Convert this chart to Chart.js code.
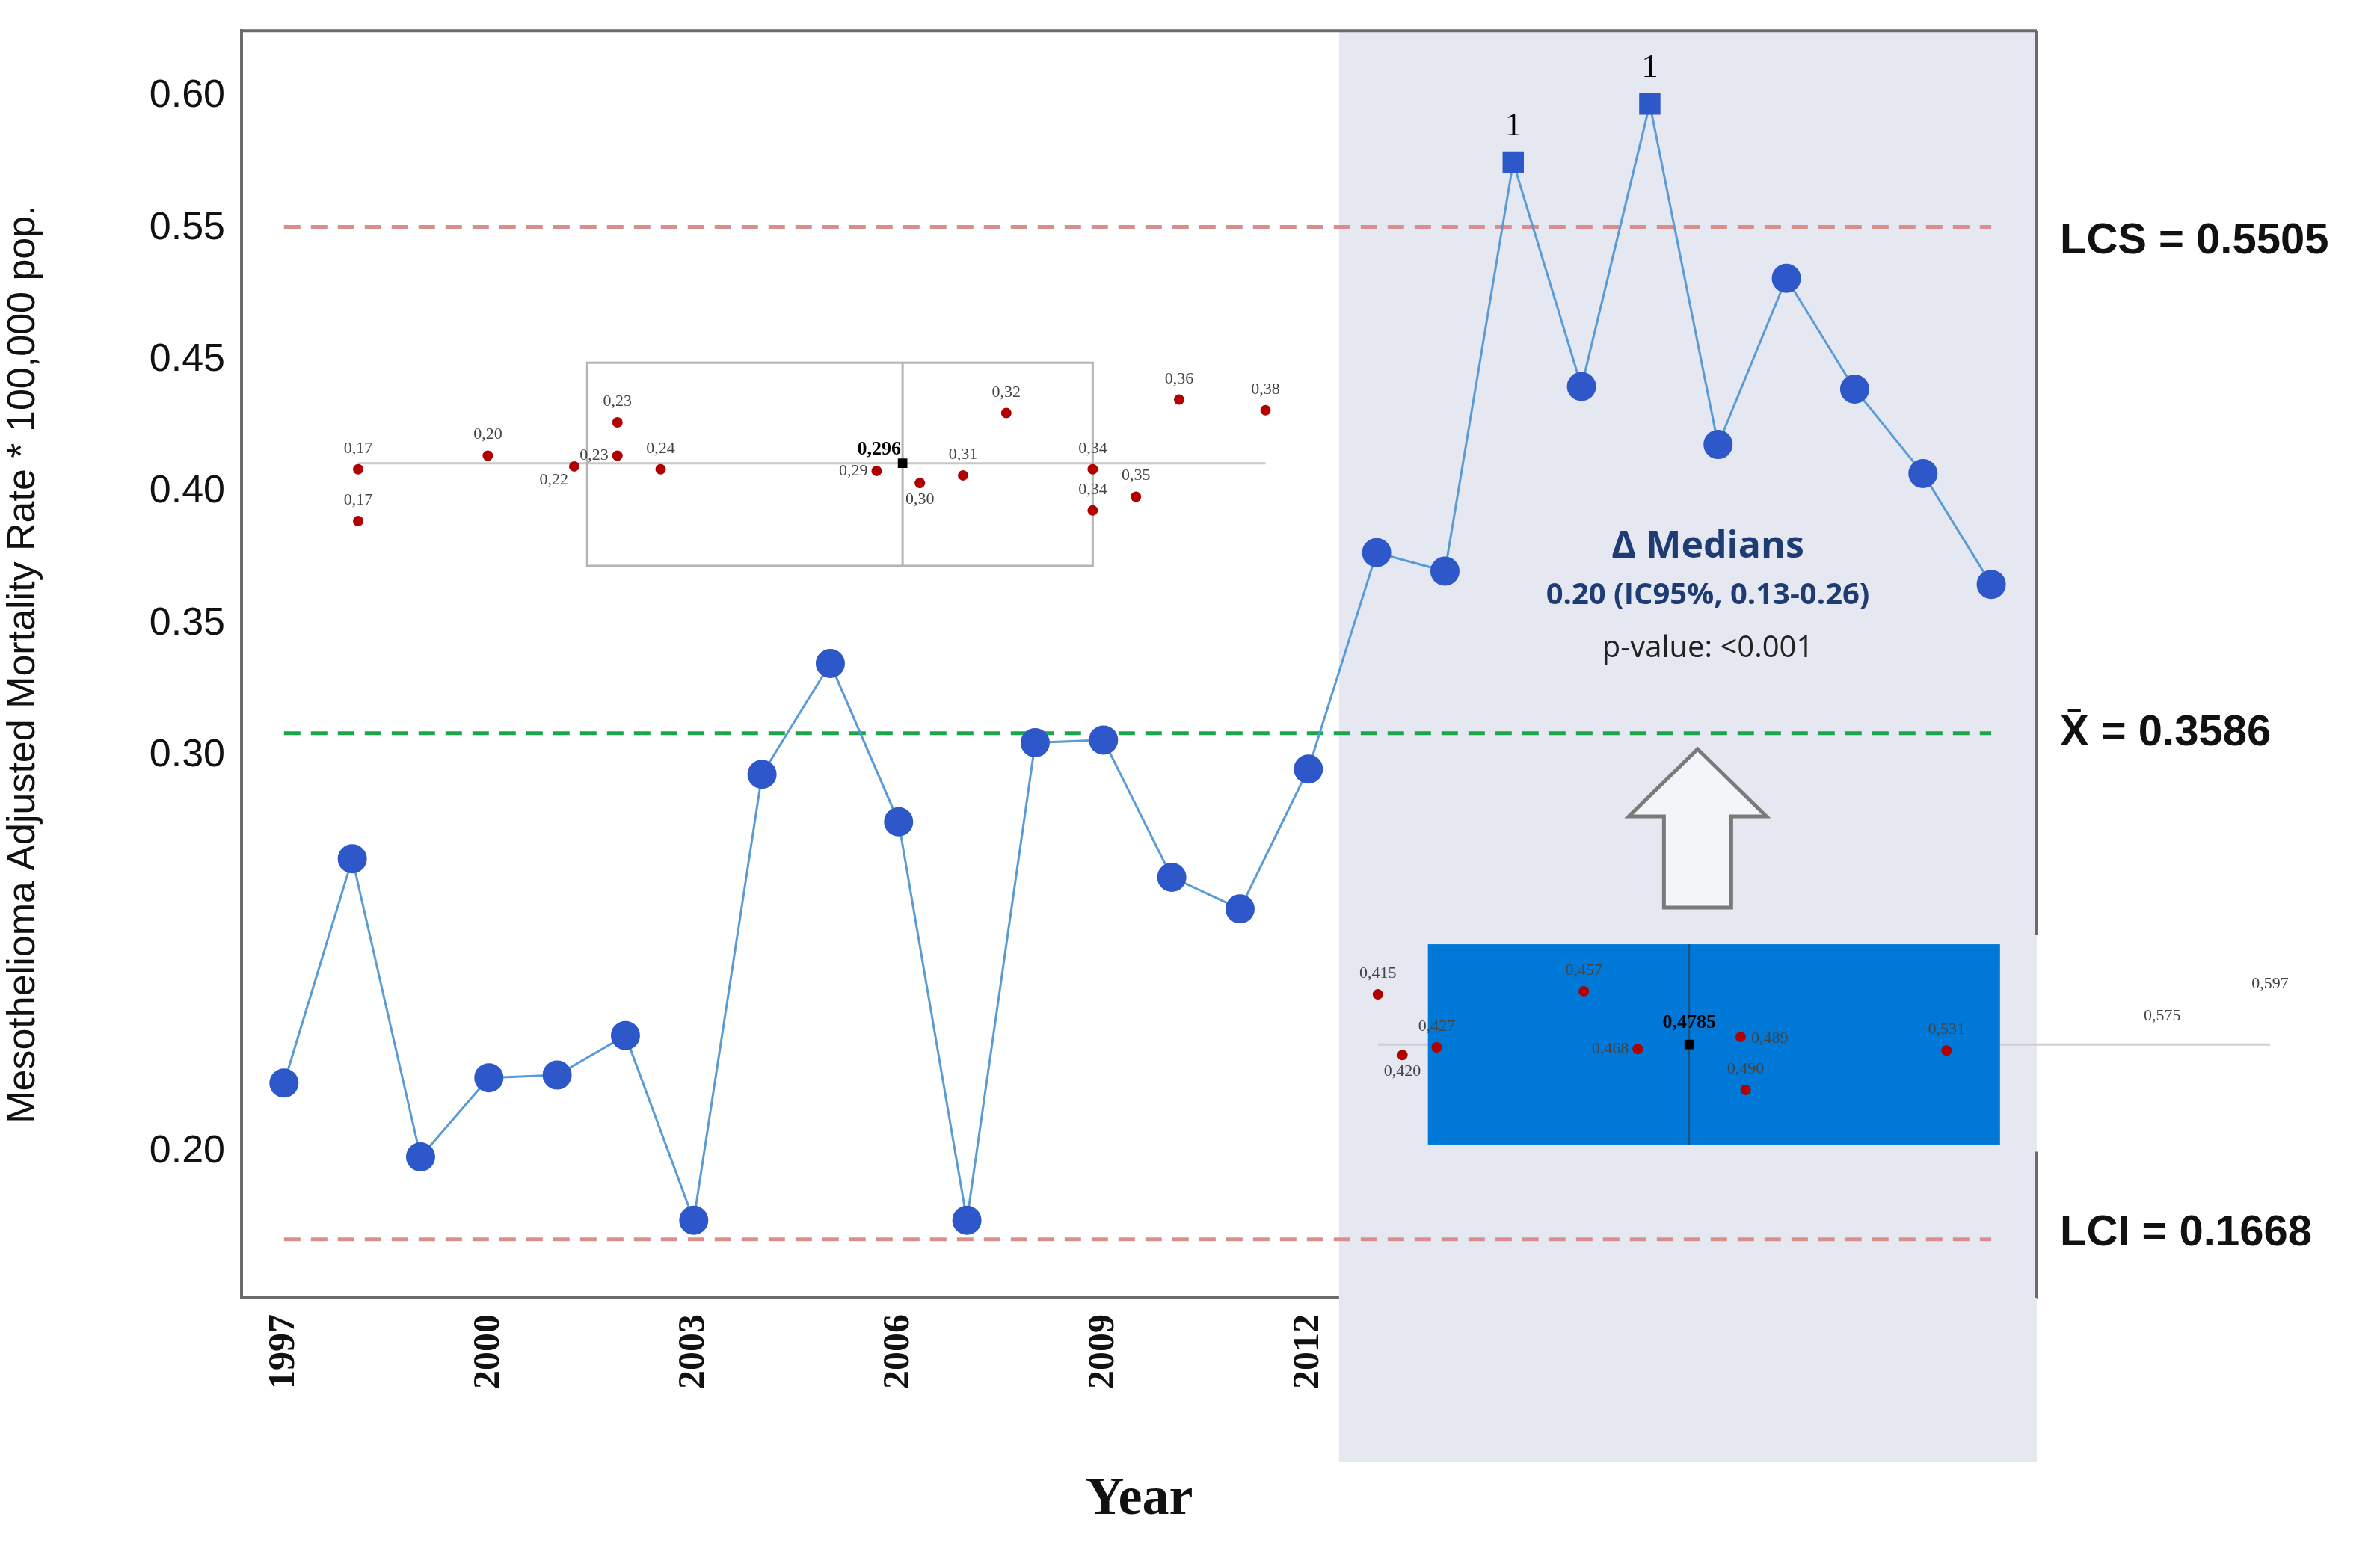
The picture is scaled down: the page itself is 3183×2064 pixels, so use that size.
<!DOCTYPE html>
<html>
<head>
<meta charset="utf-8">
<script src="https://cdn.jsdelivr.net/npm/chart.js@4"></script>
<style>
  html, body { margin: 0; padding: 0; background: #fff; }
  #wrap { width: 3183px; height: 2064px; }
</style>
</head>
<body>
<div id="wrap"><canvas id="grafico"></canvas></div>
<script>
// main series
const years = [1997,1998,1999,2000,2001,2002,2003,2004,2005,2006,2007,2008,2009,2010,2011,2012,2013,2014,2015,2016,2017,2018,2019,2020,2021,2022];
const rates = [0.226,0.311,0.198,0.228,0.229,0.244,0.174,0.343,0.385,0.325,0.174,0.355,0.356,0.304,0.292,0.345,0.427,0.420,0.575,0.490,0.597,0.468,0.531,0.489,0.457,0.415];
const outOfControl = [2015, 2017];
const xTicks = [1997,2000,2003,2006,2009,2012,2013,2015,2018,2021];
// y tick positions and the labels printed on them
const yTickValues = [0.60,0.55,0.50,0.45,0.40,0.35,0.30,0.20];
const yTickLabels = ['0.60','0.55','0.45','0.40','0.35','0.30','','0.20'];

// control limits
const LCS = 0.5505, MEAN = 0.3586, LCI = 0.1668;

// inset 1 (1997-2012)
const insetAValues = [0.17,0.17,0.20,0.23,0.23,0.22,0.24,0.29,0.30,0.31,0.32,0.34,0.34,0.35,0.36,0.38];
const insetARows   = [0.4586,0.439,0.4638,0.4764,0.4638,0.4597,0.4586,0.458,0.4534,0.4563,0.4799,0.4586,0.443,0.4482,0.485,0.481];
const insetAPos    = ['t','t','t','t','l','bl','t','l','b','t','t','t','t','t','t','t'];
const insetAMedian = 0.296, insetAQ = [0.223, 0.34];

// inset 2 (2013-2022)
const insetBValues = [0.415,0.420,0.427,0.457,0.468,0.489,0.490,0.531,0.575,0.597];
const insetBRows   = [0.2596,0.2366,0.2395,0.2608,0.2389,0.2435,0.2234,0.2383,0.2435,0.2556];
const insetBPos    = ['t','b','t','t','l','r','t','t','t','t'];
const insetBMedian = 0.4785, insetBQ = [0.4252, 0.5419];

const mainPts = years.map((y, i) => ({x: y, y: rates[i]}));
const styles = years.map(y => outOfControl.includes(y) ? 'rect' : 'circle');

function limitLine(v, color) {
    return {
        type: 'line', data: [{x: 1997, y: v}, {x: 2022, y: v}],
        borderColor: color, borderWidth: 5, borderDash: [22, 14], pointRadius: 0, xAxisID: 'x'
    };
}

const extras = {
    id: 'extras',
    beforeDatasetsDraw(chart) {
        const c = chart.ctx, a = chart.chartArea;
        const x = chart.scales.x, y = chart.scales.y, xa = chart.scales.xa, xb = chart.scales.xb;
        c.save();
        // shaded post period
        const sx = x.getPixelForValue(2012.45);
        c.fillStyle = '#E5E8F0';
        c.fillRect(sx, a.top, a.right - sx, 1956 - a.top);
        // frame
        c.strokeStyle = '#6b6b6b'; c.lineWidth = 4;
        c.beginPath();
        c.moveTo(a.left, a.top); c.lineTo(a.right, a.top);
        c.moveTo(a.right, a.top); c.lineTo(a.right, y.getPixelForValue(0.282));
        c.moveTo(a.right, y.getPixelForValue(0.20)); c.lineTo(a.right, a.bottom);
        c.stroke();
        // inset 1 box
        c.strokeStyle = '#c8c8c8'; c.lineWidth = 3;
        c.beginPath();
        c.moveTo(xa.getPixelForValue(0.17), y.getPixelForValue(0.4609));
        c.lineTo(xa.getPixelForValue(0.38), y.getPixelForValue(0.4609));
        c.stroke();
        c.strokeStyle = '#b4b4b4';
        c.strokeRect(xa.getPixelForValue(insetAQ[0]), y.getPixelForValue(0.499),
            xa.getPixelForValue(insetAQ[1]) - xa.getPixelForValue(insetAQ[0]),
            y.getPixelForValue(0.422) - y.getPixelForValue(0.499));
        c.beginPath();
        c.moveTo(xa.getPixelForValue(insetAMedian), y.getPixelForValue(0.499));
        c.lineTo(xa.getPixelForValue(insetAMedian), y.getPixelForValue(0.422));
        c.stroke();
        // inset 2 box
        c.strokeStyle = '#cfcfcf';
        c.beginPath();
        c.moveTo(xb.getPixelForValue(0.415), y.getPixelForValue(0.2406));
        c.lineTo(xb.getPixelForValue(0.597), y.getPixelForValue(0.2406));
        c.stroke();
        c.fillStyle = '#0078D7';
        const bx = xb.getPixelForValue(insetBQ[0]), by = y.getPixelForValue(0.2786);
        c.fillRect(bx, by, xb.getPixelForValue(insetBQ[1]) - bx, y.getPixelForValue(0.2027) - by);
        c.strokeStyle = '#1d4f7a'; c.lineWidth = 2;
        c.beginPath();
        c.moveTo(xb.getPixelForValue(insetBMedian), by);
        c.lineTo(xb.getPixelForValue(insetBMedian), y.getPixelForValue(0.2027));
        c.stroke();
        // arrow
        const cx = x.getPixelForValue(2017.7);
        c.strokeStyle = '#7a7a7a'; c.lineWidth = 5; c.fillStyle = '#f4f5f8';
        c.beginPath();
        c.moveTo(cx, 1002); c.lineTo(cx + 92, 1092); c.lineTo(cx + 45, 1092); c.lineTo(cx + 45, 1214);
        c.lineTo(cx - 45, 1214); c.lineTo(cx - 45, 1092); c.lineTo(cx - 92, 1092); c.closePath();
        c.fill(); c.stroke();
        c.restore();
    },
    afterDatasetsDraw(chart) {
        const c = chart.ctx, a = chart.chartArea;
        c.save();
        // inset labels
        const drawLabels = (idx, pos, vals, dec) => {
            const meta = chart.getDatasetMeta(idx);
            c.font = '22px "Liberation Serif"'; c.fillStyle = '#444';
            meta.data.forEach((p, i) => {
                const t = vals[i].toFixed(dec).replace('.', ',');
                let tx = p.x, ty = p.y - 22, al = 'center';
                if (pos[i] === 'b') ty = p.y + 28;
                if (pos[i] === 'l') { tx = p.x - 12; ty = p.y + 6; al = 'right'; }
                if (pos[i] === 'bl') { tx = p.x - 8; ty = p.y + 24; al = 'right'; }
                if (pos[i] === 'r') { tx = p.x + 14; ty = p.y + 8; al = 'left'; }
                c.textAlign = al; c.fillText(t, tx, ty);
            });
        };
        drawLabels(3, insetAPos, insetAValues, 2);
        drawLabels(5, insetBPos, insetBValues, 3);
        c.font = 'bold 26px "Liberation Serif"'; c.fillStyle = '#000'; c.textAlign = 'right';
        const mA = chart.getDatasetMeta(4).data[0], mB = chart.getDatasetMeta(6).data[0];
        c.fillText('0,296', mA.x - 2, mA.y - 12);
        c.textAlign = 'center';
        c.fillText('0,4785', mB.x, mB.y - 22);
        // "1" markers over out-of-control points
        const meta = chart.getDatasetMeta(0);
        c.font = '44px "Liberation Serif"';
        years.forEach((yr, i) => {
            if (outOfControl.includes(yr)) c.fillText('1', meta.data[i].x, meta.data[i].y - 36);
        });
        // limit labels
        const y = chart.scales.y;
        c.font = 'bold 58px "Liberation Sans"'; c.fillStyle = '#111'; c.textAlign = 'left';
        c.textBaseline = 'middle';
        c.fillText('LCS = 0.5505', 2755, y.getPixelForValue(0.545));
        c.fillText('X\u0304 = 0.3586', 2755, y.getPixelForValue(0.3586));
        c.fillText('LCI = 0.1668', 2755, y.getPixelForValue(0.1668) - 8);
        // medians annotation
        const cx = chart.scales.x.getPixelForValue(2017.85);
        c.textAlign = 'center'; c.fillStyle = '#1F3B73';
        c.font = 'bold 50px "Open Sans"';
        c.fillText('\u0394 Medians', cx, 732);
        c.font = 'bold 40px "Open Sans"';
        c.fillText('0.20 (IC95%, 0.13-0.26)', cx, 797);
        c.fillStyle = '#222'; c.font = '40px "Open Sans"';
        c.fillText('p-value: <0.001', cx, 868);
        c.restore();
    }
};

Chart.defaults.font.family = '"Liberation Sans", Arial, sans-serif';

new Chart(document.getElementById('grafico'), {
    type: 'line',
    data: {
        datasets: [
            {
                data: mainPts, xAxisID: 'x', borderColor: '#5B9BD5', borderWidth: 3,
                pointBackgroundColor: '#2E58C9', pointBorderColor: '#2E58C9',
                pointStyle: styles, pointRadius: 18, tension: 0
            },
            limitLine(LCS, '#D98E8E'),
            limitLine(MEAN, '#1AA64A'),
            {
                type: 'scatter', xAxisID: 'xa', clip: false,
                data: insetAValues.map((v, i) => ({x: v, y: insetARows[i]})),
                backgroundColor: '#B00000', pointRadius: 7, pointBorderWidth: 0
            },
            {
                type: 'scatter', xAxisID: 'xa', clip: false,
                data: [{x: insetAMedian, y: 0.4609}],
                backgroundColor: '#000', pointStyle: 'rect', pointRadius: 9, pointBorderWidth: 0
            },
            {
                type: 'scatter', xAxisID: 'xb', clip: false,
                data: insetBValues.map((v, i) => ({x: v, y: insetBRows[i]})),
                backgroundColor: '#B00000', pointRadius: 7, pointBorderWidth: 0
            },
            {
                type: 'scatter', xAxisID: 'xb', clip: false,
                data: [{x: insetBMedian, y: 0.2406}],
                backgroundColor: '#000', pointStyle: 'rect', pointRadius: 9, pointBorderWidth: 0
            },
            limitLine(LCI, '#D98E8E')
        ]
    },
    options: {
        responsive: true, maintainAspectRatio: false, devicePixelRatio: 1, animation: false,
        layout: { padding: { left: 0, right: 459, top: 41, bottom: 0 } },
        plugins: { legend: { display: false }, tooltip: { enabled: false } },
        scales: {
            x: {
                type: 'linear', min: 1996.378, max: 2022.667,
                afterBuildTicks: s => { s.ticks = xTicks.map(v => ({value: v})); },
                afterFit: s => { s.height = 328; },
                grid: { display: false, drawTicks: true, tickLength: 14, tickColor: '#6b6b6b' },
                border: { color: '#6b6b6b', width: 4 },
                ticks: {
                    minRotation: 90, maxRotation: 90, color: '#111', padding: 8,
                    font: { family: '"Liberation Serif"', size: 50, weight: 'bold' },
                    callback: v => String(v)
                },
                title: {
                    display: true, text: 'Year', color: '#111',
                    font: { family: '"Liberation Serif"', size: 72, weight: 'bold' },
                    padding: { top: 0, bottom: 14 }
                }
            },
            xa: { type: 'linear', display: false, min: 0.143, max: 0.5585 },
            xb: { type: 'linear', display: false, min: 0.1832, max: 0.5494 },
            y: {
                min: 0.1446, max: 0.6248,
                afterBuildTicks: s => { s.ticks = yTickValues.map(v => ({value: v})); },
                afterFit: s => { s.width = 323; },
                grid: { display: false, drawTicks: true, tickLength: 12, tickColor: '#6b6b6b' },
                border: { color: '#6b6b6b', width: 4 },
                ticks: {
                    color: '#111', padding: 10, font: { size: 52 },
                    callback: v => yTickLabels[yTickValues.findIndex(t => Math.abs(t - v) < 1e-6)]
                },
                title: {
                    display: true, text: 'Mesothelioma Adjusted Mortality Rate * 100,000 pop.',
                    color: '#111', font: { size: 52 }, padding: { top: 0, bottom: 10 }
                }
            }
        }
    },
    plugins: [extras]
});
</script>
</body>
</html>
